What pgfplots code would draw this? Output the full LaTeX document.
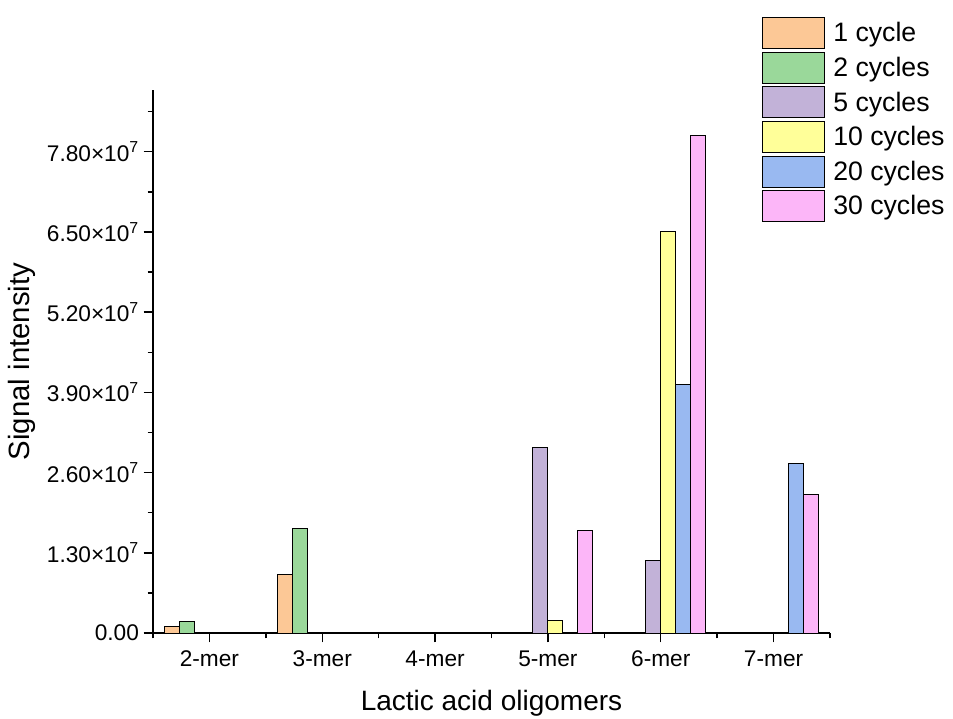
\documentclass[border=0pt]{standalone}
\usepackage{pgfplots}
\pgfplotsset{compat=1.18}
\usepackage{fontspec}
\setmainfont{Liberation Sans}
\definecolor{cA}{HTML}{FCC896}
\definecolor{cB}{HTML}{9AD89A}
\definecolor{cC}{HTML}{C2B2D8}
\definecolor{cD}{HTML}{FFFF99}
\definecolor{cE}{HTML}{99B9F1}
\definecolor{cF}{HTML}{FCB6F8}
\begin{document}
\begin{tikzpicture}
\useasboundingbox (-114.75pt,-63.75pt) rectangle (600pt,474.75pt);
\begin{axis}[
  at={(0pt,0pt)}, anchor=south west,
  scale only axis,
  width=507.75pt, height=407.25pt,
  ybar=0pt, bar width=11.25pt,
  xmin=1.5, xmax=7.5, ymin=0, ymax=8.8e7,
  axis lines=left,
  axis line style={-, line width=1.3pt},
  tick align=outside,
  major tick length=7pt, minor tick length=4pt,
  tick style={line width=1.1pt, black},
  xtick={2,3,4,5,6,7},
  xticklabels={2-mer,3-mer,4-mer,5-mer,6-mer,7-mer},
  minor xtick={1.5,2.5,3.5,4.5,5.5,6.5,7.5},
  ytick={0,1.3e7,2.6e7,3.9e7,5.2e7,6.5e7,7.8e7},
  minor ytick={0.65e7,1.95e7,3.25e7,4.55e7,5.85e7,7.15e7,8.45e7},
  yticklabels={0.00,{1.30×10\textsuperscript{7}},{2.60×10\textsuperscript{7}},{3.90×10\textsuperscript{7}},{5.20×10\textsuperscript{7}},{6.50×10\textsuperscript{7}},{7.80×10\textsuperscript{7}}},
  scaled y ticks=false,
  ticklabel style={font=\fontsize{17}{20}\selectfont},
  xticklabel style={yshift=-3pt},
  xlabel={Lactic acid oligomers},
  ylabel={Signal intensity},
  xlabel style={font=\fontsize{21}{25}\selectfont, at={(axis description cs:0.5,-0.129)}, anchor=center},
  ylabel style={font=\fontsize{22}{26}\selectfont, at={(axis description cs:-0.1935,0.5)}, anchor=center},
  legend style={at={(axis description cs:0.8996,1.1344)}, anchor=north west,
    draw=none, fill=none, inner sep=0pt, row sep=2pt,
    font=\fontsize{20}{24}\selectfont,
    nodes={inner sep=0pt, anchor=west}},
  legend cell align=left,
  legend image code/.code={\draw[#1, line width=0.75pt] (0pt,-11.6pt) rectangle (46.5pt,11.6pt);\path (52.5pt,0pt);},
  every axis plot/.append style={draw=black, line width=0.75pt},
]
\addplot[fill=cA] coordinates {(2,1.0e6) (3,9.5e6)};
\addplot[fill=cB] coordinates {(2,1.8e6) (3,1.70e7)};
\addplot[fill=cC] coordinates {(5,3.0e7) (6,1.18e7)};
\addplot[fill=cD] coordinates {(5,2.1e6) (6,6.5e7)};
\addplot[fill=cE] coordinates {(6,4.02e7) (7,2.75e7)};
\addplot[fill=cF] coordinates {(5,1.66e7) (6,8.07e7) (7,2.24e7)};
\legend{1 cycle,2 cycles,5 cycles,10 cycles,20 cycles,30 cycles}
\end{axis}
\end{tikzpicture}
\end{document}
